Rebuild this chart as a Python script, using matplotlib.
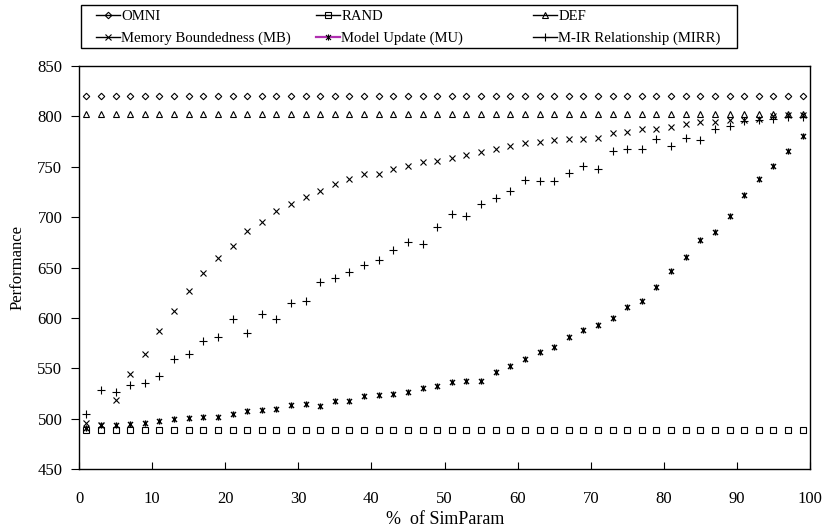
import numpy as np
import matplotlib
matplotlib.use("Agg")
import matplotlib.pyplot as plt
from matplotlib.lines import Line2D
from matplotlib.patches import Rectangle
from matplotlib.path import Path

plt.rcParams['font.family'] = ['Liberation Serif', 'DejaVu Serif']

# ---- data ----
x_pct = list(range(1, 100, 2))

omni = [820] * 50
rand = [489] * 50
deff = [802] * 50

mb = [495.5, 494, 518.4, 544.2, 564, 587.3, 607.2, 627, 644.7, 659,
      671, 686, 695, 706, 713, 720, 726, 733, 738, 742.5,
      743, 747.5, 750.5, 755, 756, 759, 762, 765, 768, 771,
      774, 775, 777, 777.5, 778, 779, 783.5, 784.5, 787, 787,
      789, 792, 794, 794.5, 796, 796, 797, 800, 801, 801]

mu = [491, 493.5, 494, 494.5, 496, 498, 500, 501, 502, 502,
      505, 508, 509, 509.5, 514, 514.5, 513, 517, 517, 522,
      523.5, 524, 526.5, 530, 532, 536, 537, 537.5, 546, 552,
      559, 566, 571.5, 581, 588, 593, 600, 610.5, 617, 630.5,
      647, 660, 677, 685, 701, 722, 738, 750.5, 766, 781]

mirr = [505, 528, 526, 533, 535, 542.5, 559, 564, 577, 581,
        599, 585, 604, 599, 614.5, 617, 636, 640, 646, 652,
        657, 667.5, 675, 673.5, 690, 703, 701, 713, 719, 726,
        737, 736, 736, 744, 751, 748, 766, 768, 768, 778,
        771, 779, 777, 787, 790, 795.5, 796, 797, 799, 799]

labels = ["OMNI", "RAND", "DEF", "Memory Boundedness (MB)",
          "Model Update (MU)", "M-IR Relationship (MIRR)"]
x_ticks = list(range(0, 101, 10))
y_ticks = list(range(450, 851, 50))

# asterisk marker: x plus vertical bar
star = Path([(-1, -1), (1, 1), (-1, 1), (1, -1), (0, -1.25), (0, 1.25)],
            [Path.MOVETO, Path.LINETO, Path.MOVETO, Path.LINETO, Path.MOVETO, Path.LINETO])

fig = plt.figure(figsize=(8.26, 5.27), dpi=100)
ax = fig.add_axes([79/826, 1-469/527, (810-79)/826, (469-66)/527])

kw = dict(linestyle='none', color='black', mfc='none', mec='black')
ax.plot(x_pct, omni, marker='D', ms=3.3, mew=0.8, **kw)
ax.plot(x_pct, rand, marker='s', ms=4.0, mew=0.8, **kw)
ax.plot(x_pct, deff, marker='^', ms=4.2, mew=0.8, **kw)
ax.plot(x_pct, mb, marker='x', ms=4.5, mew=0.8, **kw)
ax.plot(x_pct, mu, marker=star, ms=4.5, mew=1.0, **kw)
ax.plot(x_pct, mirr, marker='+', ms=5.5, mew=0.8, **kw)

ax.set_xlim(0, 100)
ax.set_ylim(450, 850)
ax.set_xticks(x_ticks)
ax.set_yticks(y_ticks)
ax.tick_params(axis='x', direction='in', length=5, width=0.8, pad=16, labelsize=12)
ax.tick_params(axis='y', direction='out', length=6, width=0.8, pad=6, labelsize=12)
for s in ax.spines.values():
    s.set_linewidth(1.0)
    s.set_color('black')

fig.text(445/826, 1-519/527, "%  of SimParam", ha='center', va='center', fontsize=13)
fig.text(18/826, 1-268/527, "Performance", ha='center', va='center', rotation=90, fontsize=12)

# legend
mk = [('D', 3.3), ('s', 4.0), ('^', 4.2), ('x', 4.5), (star, 4.5), ('+', 5.5)]
cols = ['black', 'black', 'black', 'black', '#B030B0', 'black']
lws = [1.0, 1.0, 1.0, 1.0, 1.6, 1.0]
handles = [Line2D([0], [0], color=c, lw=w, marker=m, ms=s, mfc='none', mec='black', mew=0.8)
           for (m, s), c, w in zip(mk, cols, lws)]
col_x = [96, 316, 533]
for i in range(3):
    fig.legend([handles[i], handles[i+3]], [labels[i], labels[i+3]],
               loc='upper left', bbox_to_anchor=(col_x[i]/826, 1-10/527),
               bbox_transform=fig.transFigure, frameon=False, borderpad=0,
               borderaxespad=0, handlelength=1.63, handletextpad=0.1,
               labelspacing=0.55, fontsize=10.6)
fig.add_artist(Rectangle((81/826, 1-48/527), (737-81)/826, 43/527, transform=fig.transFigure,
                         fill=False, lw=1.0, edgecolor='black'))

fig.savefig("out.png", dpi=100)
